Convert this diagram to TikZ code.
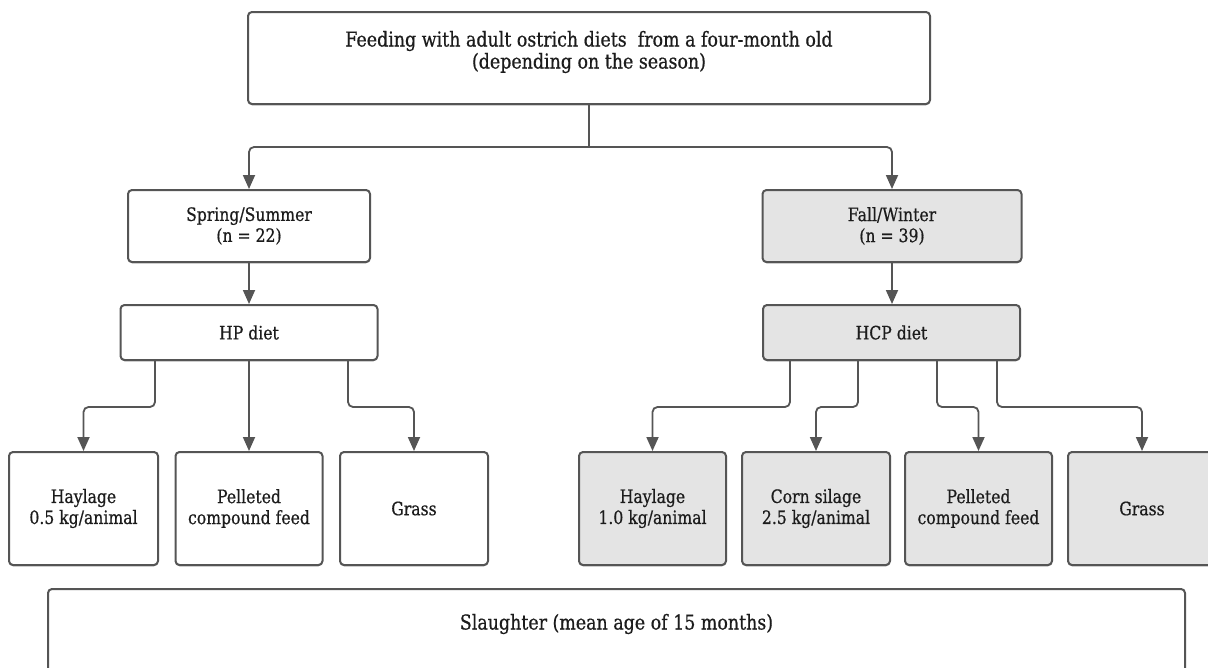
\documentclass[tikz,border=0pt]{standalone}
\usepackage{fontspec}
\setmainfont[FakeStretch=0.85,FakeBold=0.6]{DejaVu Serif}
\usetikzlibrary{arrows.meta,calc,shadows}
\definecolor{edge}{HTML}{555555}
\definecolor{grayfill}{HTML}{E4E4E4}
\definecolor{ink}{HTML}{1C1C1C}
\tikzset{
  box/.style={draw=edge, line width=2pt, rounded corners=4pt, fill=white, align=center,
    inner sep=2pt, font=\fontsize{18.4}{21}\selectfont, text=ink,
    drop shadow={shadow xshift=0pt, shadow yshift=-1.3pt, opacity=0.35, fill=black}},
  gbox/.style={box, fill=grayfill},
  bigfont/.style={font=\fontsize{20.5}{22}\selectfont, text=ink, align=center},
  arr/.style={draw=edge, line width=1.8pt, rounded corners=5pt, -{Triangle[length=14pt,width=12pt]}},
  plain/.style={draw=edge, line width=1.8pt, rounded corners=5pt}
}
\begin{document}
\begin{tikzpicture}[x=1pt,y=-1pt]
\useasboundingbox (0,0) rectangle (1208,667);
\clip (0,0) rectangle (1208,667);
\fill[white] (0,0) rectangle (1208,667);

\node[box, minimum width=682, minimum height=92] (top) at (589,58) {};
\node[bigfont] (toptext) at (589,52)
  {Feeding with adult ostrich diets\ \ from a four-month old\\(depending on the season)};

\node[box, minimum width=242, minimum height=72] (spring) at (249,226) {Spring/Summer\\(n = 22)};
\node[gbox, minimum width=259, minimum height=72] (fall) at (892,226) {Fall/Winter\\(n = 39)};

\node[box, minimum width=257, minimum height=55] (hp) at (249,332.5) {HP diet};
\node[gbox, minimum width=257, minimum height=55] (hcp) at (891.5,332.5) {HCP diet};

\node[box, minimum width=149, minimum height=113] (b1) at (83.5,508.5) {Haylage\\0.5 kg/animal};
\node[box, minimum width=147, minimum height=113] (b2) at (249,508.5) {Pelleted\\compound feed};
\node[box, minimum width=148, minimum height=113] (b3) at (414,508.5) {Grass};

\node[gbox, minimum width=147, minimum height=113] (b4) at (652.5,508.5) {Haylage\\1.0 kg/animal};
\node[gbox, minimum width=148, minimum height=113] (b5) at (816,508.5) {Corn silage\\2.5 kg/animal};
\node[gbox, minimum width=147, minimum height=113] (b6) at (978.5,508.5) {Pelleted\\compound feed};
\node[gbox, minimum width=148, minimum height=113] (b7) at (1142,508.5) {Grass};

\node[box, anchor=north, minimum width=1137, minimum height=110] (slaughter) at (616.5,588) {};
\node[bigfont] (slaughtertext) at (616.5,624) {Slaughter (mean age of 15 months)};

% connectors
\coordinate (split) at ($(top.south)+(0,42)$);
\draw[plain] (top.south) -- (split);
\draw[arr] (split) -| (spring.north);
\draw[arr] (split) -| (fall.north);

\draw[arr, rounded corners=0pt] (spring.south) -- (spring.south |- hp.north);
\draw[arr, rounded corners=0pt] (fall.south) -- (fall.south |- hcp.north);

\draw[arr] ([xshift=-94pt]hp.south) -- ++(0,46) -| (b1.north);
\draw[arr, rounded corners=0pt] (hp.south) -- (hp.south |- b2.north);
\draw[arr] ([xshift=99pt]hp.south) -- ++(0,46) -| (b3.north);

\draw[arr] ([xshift=-101.5pt]hcp.south) -- ++(0,46) -| (b4.north);
\draw[arr] ([xshift=-33.5pt]hcp.south) -- ++(0,46) -| (b5.north);
\draw[arr] ([xshift=45.5pt]hcp.south) -- ++(0,46) -| (b6.north);
\draw[arr] ([xshift=105.5pt]hcp.south) -- ++(0,46) -| (b7.north);
\end{tikzpicture}
\end{document}
